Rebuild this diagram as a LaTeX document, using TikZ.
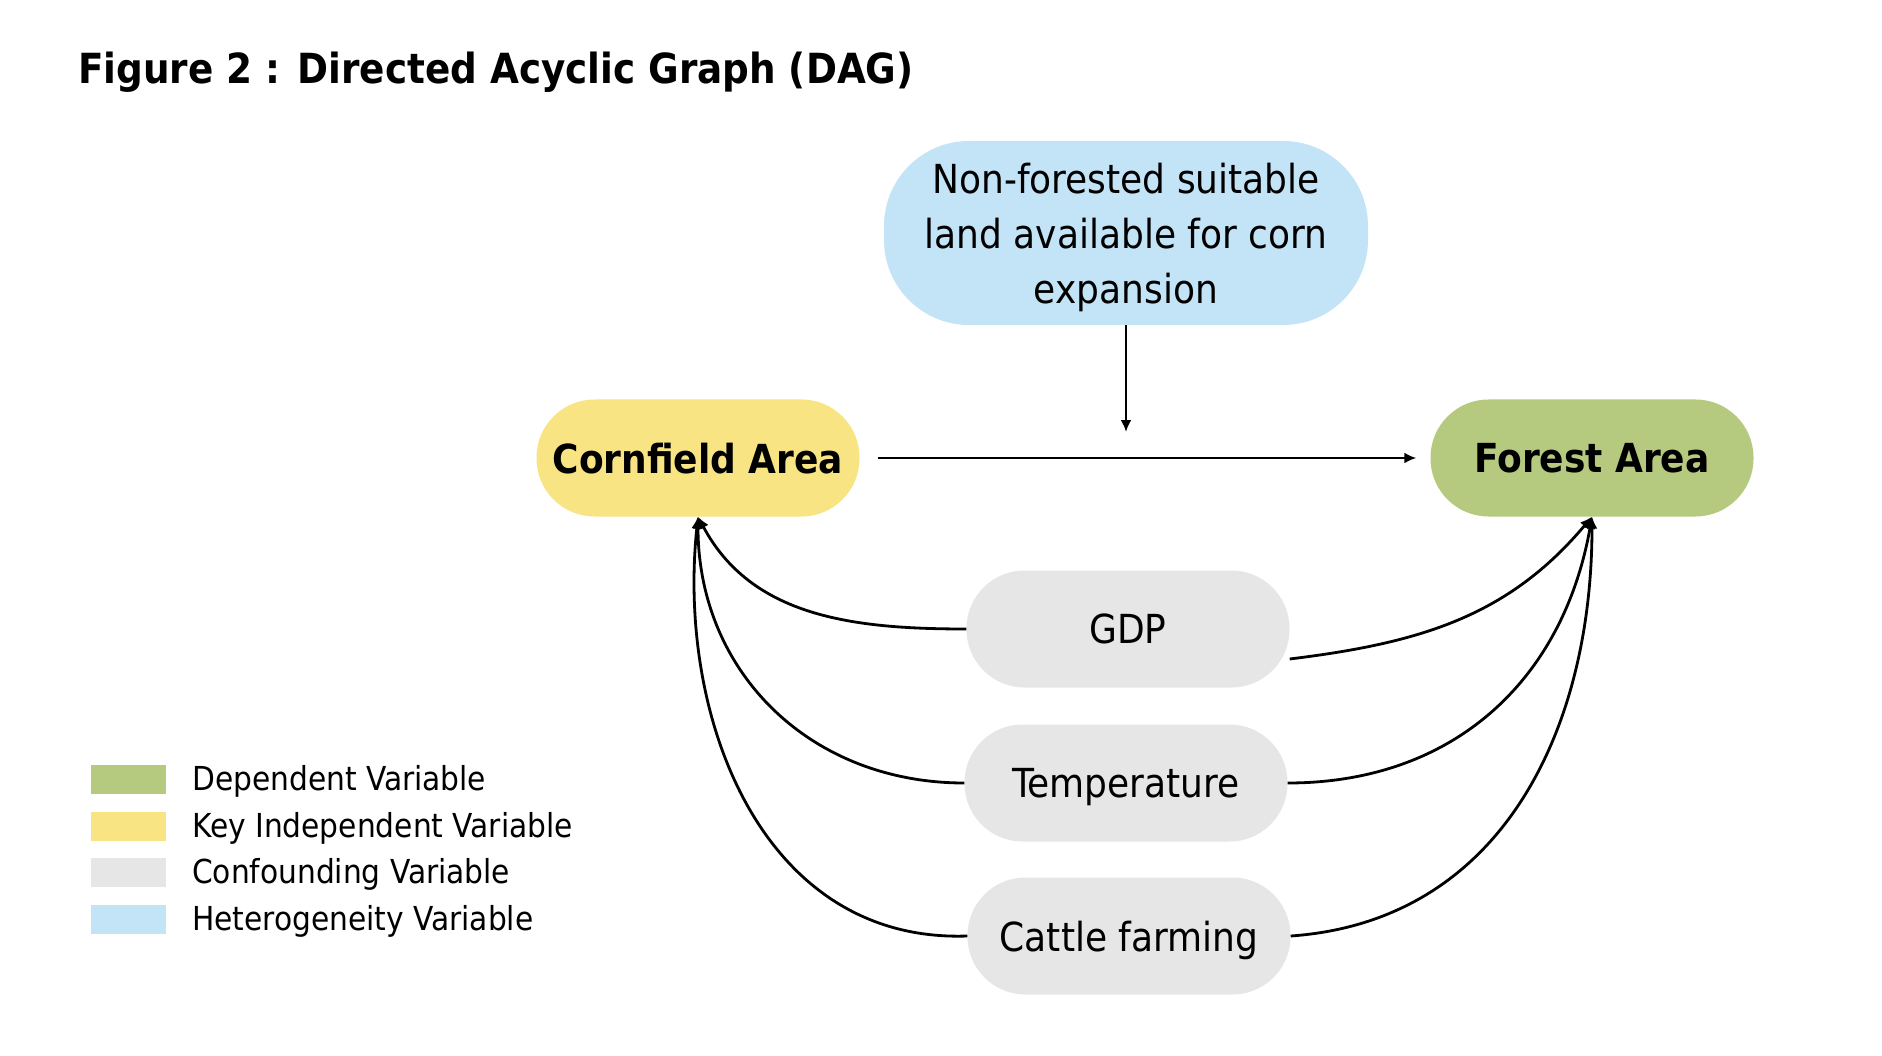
\documentclass[tikz,border=0pt]{standalone}
\usepackage{fontspec}
\setmainfont{DejaVu Sans Condensed}
\usetikzlibrary{arrows.meta}
\definecolor{cgreen}{RGB}{181,201,127}
\definecolor{cyellow}{RGB}{249,228,132}
\definecolor{cgray}{RGB}{230,230,230}
\definecolor{cblue}{RGB}{194,228,246}
\tikzset{
  pill/.style={rectangle, rounded corners=58pt, minimum width=323pt, minimum height=117pt, inner sep=0pt, align=center},
  nodetxt/.style={font=\fontsize{40}{48}\selectfont, text depth=0pt},
  keytxt/.style={font=\fontsize{40}{48}\selectfont\bfseries, text depth=0pt},
  conn/.style={line width=2.8pt, -{Latex[length=12pt,width=11pt]}},
  swatch/.style={rectangle, minimum width=75pt, minimum height=29pt, inner sep=0pt},
  legtxt/.style={anchor=west, inner sep=0pt, font=\fontsize{33}{40}\selectfont}
}
\begin{document}
\begin{tikzpicture}[x=1pt,y=1pt]
\useasboundingbox[fill=white] (0,0) rectangle (1882,-1056);
\node[anchor=base west, inner sep=0pt, font=\fontsize{41.5}{48}\selectfont\bfseries] (title) at (78,-84) {Figure 2 : Directed Acyclic Graph (DAG)};
\node[pill, fill=cblue, minimum width=484pt, minimum height=184pt, rounded corners=85pt, font=\fontsize{40}{55}\selectfont, text depth=0pt] (het) at (1126,-233) {Non-forested suitable\\land available for corn\\expansion};
\node[pill, fill=cyellow, keytxt] (corn) at (698,-458) {Cornfield Area};
\node[pill, fill=cgreen, keytxt] (forest) at (1592,-458) {Forest Area};
\node[pill, fill=cgray, nodetxt] (gdp) at (1128,-629) {GDP};
\node[pill, fill=cgray, nodetxt] (temp) at (1126,-783) {Temperature};
\node[pill, fill=cgray, nodetxt] (cattle) at (1129,-936) {Cattle farming};
\coordinate (mid) at (1126,-432);
\draw[conn, shorten <=18pt, shorten >=14pt] (corn.east) -- (forest.west);
\draw[conn] (het.south) -- (mid);
\draw[conn] (gdp.west) to[out=180,in=-62] (corn.south);
\draw[conn] (temp.west) to[out=180,in=-90, looseness=1.05] (corn.south);
\draw[conn] (cattle.west) to[out=182,in=-96, looseness=1.05] (corn.south);
\draw[conn] ([yshift=-30pt]gdp.east) to[out=7,in=-130] (forest.south);
\draw[conn] (temp.east) to[out=0,in=-100, looseness=1.05] (forest.south);
\draw[conn] (cattle.east) to[out=4,in=-90, looseness=1.05] (forest.south);
\node[swatch, fill=cgreen] (s1) at (128.5,-779) {};
\node[swatch, fill=cyellow] (s2) at (128.5,-826) {};
\node[swatch, fill=cgray] (s3) at (128.5,-872) {};
\node[swatch, fill=cblue] (s4) at (128.5,-919) {};
\node[legtxt] (l1) at (192,-781) {Dependent Variable};
\node[legtxt] (l2) at (192,-828) {Key Independent Variable};
\node[legtxt] (l3) at (192,-874) {Confounding Variable};
\node[legtxt] (l4) at (192,-921) {Heterogeneity Variable};
\end{tikzpicture}
\end{document}
